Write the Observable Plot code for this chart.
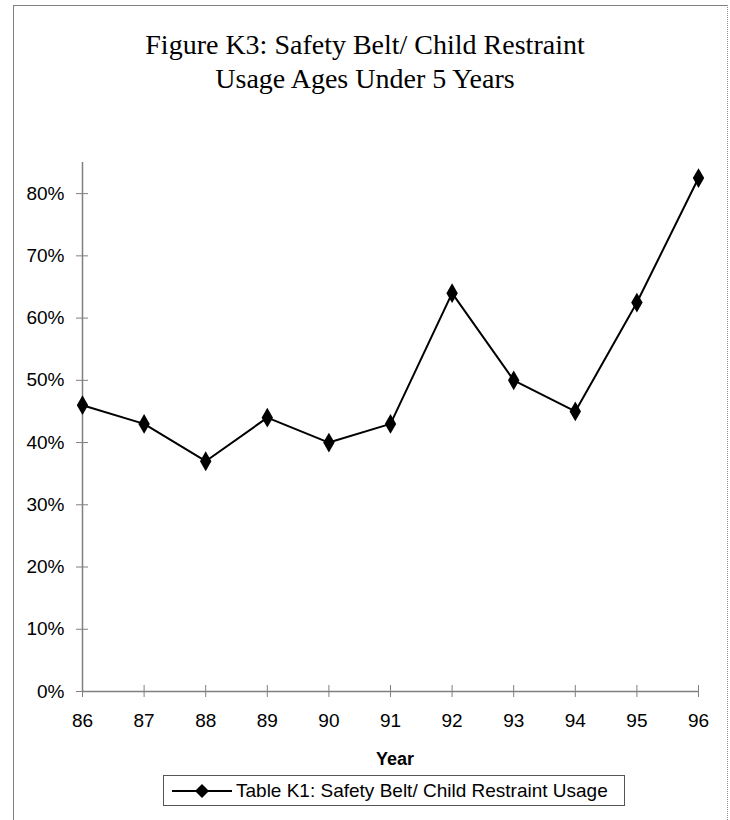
<!DOCTYPE html>
<html>
<head>
<meta charset="utf-8">
<script src="https://cdn.jsdelivr.net/npm/d3@7"></script>
<script src="https://cdn.jsdelivr.net/npm/@observablehq/plot@0.6"></script>
<style>
  html, body { margin: 0; padding: 0; background: #fff; }
  #wrap { position: relative; width: 730px; height: 820px; overflow: hidden; font-family: "Liberation Sans", Arial, sans-serif; }
  #frame { position: absolute; left: 13px; top: 5px; width: 713px; height: 830px; border-left: 1.5px solid #808080; border-top: 1.5px solid #808080; border-right: 1px dotted #909090; }
  #title { position: absolute; left: 0; width: 730px; top: 28px; text-align: center; font-family: "Liberation Serif", "Times New Roman", serif; font-size: 28px; line-height: 34px; color: #000; }
  #chart { position: absolute; left: 0; top: 150px; }
  #xlabel { position: absolute; left: 87px; width: 616px; top: 749px; text-align: center; font-weight: bold; font-size: 18px; color: #000; }
  #legend { position: absolute; left: 163px; top: 775px; width: 462px; height: 31px; border: 1px solid #555; display: flex; align-items: center; font-size: 19px; color: #000; box-sizing: border-box; }
  #legend svg { margin-left: 8px; margin-right: 4px; }
</style>
</head>
<body>
<div id="wrap">
  <div id="frame"></div>
  <div id="title"></div>
  <div id="chart"></div>
  <div id="xlabel"></div>
  <div id="legend"></div>
</div>
<script>
const titleLines = ["Figure K3: Safety Belt/ Child Restraint", "Usage Ages Under 5 Years"];
const xAxisLabel = "Year";
const seriesName = "Table K1: Safety Belt/ Child Restraint Usage";
const years = [86, 87, 88, 89, 90, 91, 92, 93, 94, 95, 96];
const usage = [0.46, 0.43, 0.37, 0.44, 0.40, 0.43, 0.64, 0.50, 0.45, 0.625, 0.825];
const yTicks = [0, 0.1, 0.2, 0.3, 0.4, 0.5, 0.6, 0.7, 0.8];
const yTickLabels = ["0%", "10%", "20%", "30%", "40%", "50%", "60%", "70%", "80%"];
const xTickLabels = ["86", "87", "88", "89", "90", "91", "92", "93", "94", "95", "96"];

const data = years.map((y, i) => ({year: y, value: usage[i]}));
const axisGray = "#808080";

document.getElementById("title").innerHTML = titleLines.join("<br>");
document.getElementById("xlabel").textContent = xAxisLabel;

const chart = Plot.plot({
  width: 730,
  height: 625,
  marginLeft: 82,
  marginRight: 32,
  marginTop: 12,
  marginBottom: 84,
  style: {fontFamily: "'Liberation Sans', Arial, sans-serif", fontSize: "19px", color: "#000", background: "transparent"},
  x: {domain: [years[0], years[years.length - 1]]},
  y: {domain: [0, 0.85]},
  marks: [
    Plot.ruleY([yTicks[0]], {stroke: axisGray, strokeWidth: 1.5}),
    Plot.ruleX([years[0]], {stroke: axisGray, strokeWidth: 1.5}),
    Plot.ruleX(years, {x: d => d, y1: () => yTicks[0], y2: () => yTicks[0], insetTop: -6, insetBottom: -6, stroke: axisGray, strokeWidth: 1}),
    Plot.ruleY(yTicks, {y: d => d, x1: () => years[0], x2: () => years[0], insetLeft: -6, insetRight: -6, stroke: axisGray, strokeWidth: 1}),
    Plot.axisX({ticks: years, tickSize: 0, tickPadding: 22, tickFormat: d => xTickLabels[years.indexOf(d)], label: null, fill: "#000"}),
    Plot.axisY({ticks: yTicks, tickSize: 0, tickPadding: 18, tickFormat: d => yTickLabels[yTicks.indexOf(d)], label: null, fill: "#000"}),
    Plot.line(data, {x: "year", y: "value", stroke: "#000", strokeWidth: 2}),
    Plot.dot(data, {x: "year", y: "value", symbol: "diamond", r: 6, fill: "#000", stroke: "none"})
  ]
});
document.getElementById("chart").appendChild(chart);

// legend
const lg = document.getElementById("legend");
lg.innerHTML = `<svg width="60" height="16" viewBox="0 0 60 16"><line x1="0" y1="8" x2="60" y2="8" stroke="#000" stroke-width="2"/><path d="M30,1 L37,8 L30,15 L23,8 Z" fill="#000"/></svg><span></span>`;
lg.querySelector("span").textContent = seriesName;
</script>
</body>
</html>
